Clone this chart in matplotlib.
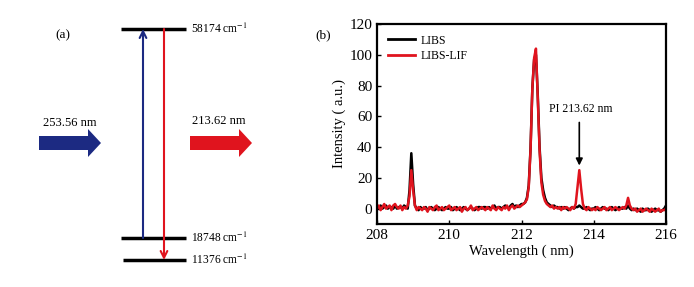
import numpy as np
import matplotlib
matplotlib.use("Agg")
import matplotlib.pyplot as plt

plt.rcParams['font.family'] = ['Liberation Serif', 'DejaVu Serif']
plt.rcParams['mathtext.fontset'] = 'stix'

# ---- data ----
wavelength = np.round(np.arange(208.0, 216.001, 0.05), 2)

libs_lif = [0, 2, -1, 1, 3, 0, 1, 2, -1, 2, 3, 1, 0, 2, -1, 1, 0, 2, 8, 25,
            12, 2, -1, 1, 0, -1, 1, 0, -2, 1, 0, -1, 1, 2, -1, 0, 1, -1, 0, 1,
            2, -1, 0, 1, -1, 0, 1, -2, 0, 1, -1, 0, 2, -1, 0, 1, -1, 0, 1, 0,
            -1, 1, 0, -1, 2, 0, -1, 1, 0, -1, 1, 0, 2, -1, 1, 2, 0, 1, 2, 1,
            2, 3, 4, 6, 14, 38, 78, 98, 104, 72, 38, 17, 9, 5, 3, 2, 1, 2, 0, 1,
            0, 1, -1, 1, 0, 1, 0, -1, 1, 0, 3, 14, 25, 13, 3, 0, -1, 1, 0, -1,
            0, -1, 1, 0, -1, 0, 1, -1, 0, 1, -1, 0, 1, 0, -1, 0, 1, 0, 2, 7,
            2, 0, -1, 0, -2, -1, 0, -2, -1, 0, -1, -2, 0, -1, -2, -1, 0, -2, -1, -1, 0]

libs = [1, 0, 2, 0, 1, 2, 0, 1, 1, 0, 2, 0, 1, 1, 0, 2, 1, 0, 12, 36,
        16, 2, 0, -1, 1, 0, 0, 1, -1, 0, 1, 0, -1, 0, 1, 0, -1, 0, 1, 0,
        0, 1, -1, 0, 1, 0, -1, 0, 1, 0, -1, 0, 1, 0, -1, 0, 1, 1, 0, 1,
        1, 0, 1, 0, 1, 2, 0, 1, 1, 0, 1, 2, 1, 0, 2, 3, 1, 2, 1, 2,
        3, 3, 4, 7, 15, 39, 78, 97, 100, 74, 40, 20, 12, 7, 4, 3, 2, 1, 2, 1,
        1, 0, 1, 0, 1, 0, -1, 0, 1, 0, 1, 1, 2, 1, 0, 0, 1, 0, -1, 0,
        0, 1, 0, -1, 0, 1, 0, 0, -1, 0, 1, 0, -1, 0, 1, 0, 0, 1, 0, 2,
        0, -1, 0, -1, 0, -1, -2, 0, -1, -1, 0, -1, -2, -1, 0, -1, -1, -2, -1, 0, 2]

level_labels = ["58174 cm$^{-1}$", "18748 cm$^{-1}$", "11376 cm$^{-1}$"]
pump_label = "253.56 nm"
fluor_label = "213.62 nm"

NAVY = '#1c2a82'
RED = '#e0141e'

fig = plt.figure(figsize=(6.94, 2.87), dpi=100)

# ---- panel (a): energy level diagram (pixel-like coords) ----
axa = fig.add_axes([0, 0, 300 / 694, 1])
axa.set_xlim(0, 300)
axa.set_ylim(287, 0)
axa.axis('off')

levels_y = [29, 238, 260]
levels_x = [(121, 186), (121, 186), (123, 186)]
for y, (x0, x1), lab in zip(levels_y, levels_x, level_labels):
    axa.plot([x0, x1], [y, y], color='black', lw=2.5, solid_capstyle='butt')
    axa.text(191, y, lab, fontsize=8.3, va='center', ha='left')

axa.annotate('', xy=(143, 29), xytext=(143, 238),
             arrowprops=dict(arrowstyle='->', color=NAVY, lw=1.5,
                             shrinkA=0, shrinkB=0, mutation_scale=12))
axa.annotate('', xy=(164, 260), xytext=(164, 29),
             arrowprops=dict(arrowstyle='->', color=RED, lw=1.5,
                             shrinkA=0, shrinkB=0, mutation_scale=12))

axa.arrow(39, 143, 62, 0, width=14, head_width=28, head_length=13,
          length_includes_head=True, color=NAVY, lw=0)
axa.arrow(190, 143, 62, 0, width=14, head_width=28, head_length=13,
          length_includes_head=True, color=RED, lw=0)
axa.text(43, 123, pump_label, fontsize=9, ha='left', va='center')
axa.text(192, 121, fluor_label, fontsize=9, ha='left', va='center')
axa.text(55, 35, "(a)", fontsize=9.5, ha='left', va='center')

# ---- panel (b): spectra ----
axb = fig.add_axes([377 / 694, 63 / 287, 289 / 694, 200 / 287])
axb.plot(wavelength, libs, color='black', lw=1.8, label='LIBS')
axb.plot(wavelength, libs_lif, color=RED, lw=1.8, label='LIBS-LIF')
axb.set_xlim(208, 216)
axb.set_ylim(-10, 120)
axb.set_xticks([208, 210, 212, 214, 216])
axb.set_yticks([0, 20, 40, 60, 80, 100, 120])
axb.tick_params(direction='in', length=3, width=1, labelsize=11)
for s in axb.spines.values():
    s.set_linewidth(1.6)
axb.set_xlabel("Wavelength ( nm)", fontsize=10.5, labelpad=2)
axb.set_ylabel("Intensity ( a.u.)", fontsize=10.5, labelpad=2)
leg = axb.legend(loc='upper left', frameon=False, fontsize=8.5,
                 handlelength=2.3, handletextpad=0.5, borderaxespad=0.5,
                 labelspacing=0.3)
for line in leg.get_lines():
    line.set_linewidth(2)
axb.annotate('', xy=(213.6, 28), xytext=(213.6, 56),
             arrowprops=dict(arrowstyle='-|>', color='black', lw=1.2,
                             shrinkA=0, shrinkB=0, mutation_scale=10))
axb.text(213.63, 64.5, "PI 213.62 nm", fontsize=8.5, ha='center', va='center')
fig.text(315 / 694, 1 - 35 / 287, "(b)", fontsize=9.5, ha='left', va='center')

fig.savefig("out.png", dpi=100)
